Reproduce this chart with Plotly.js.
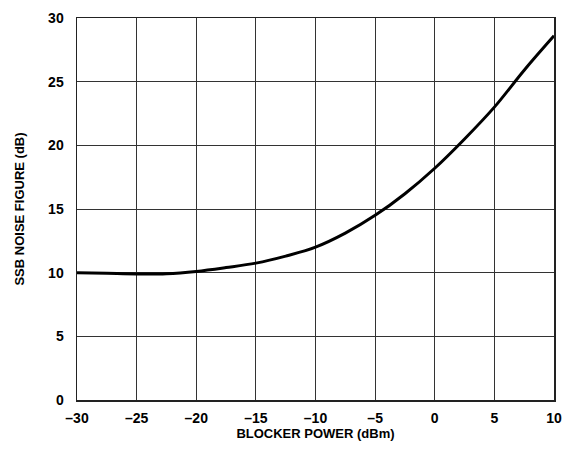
<!DOCTYPE html>
<html><head><meta charset="utf-8">
<script src="https://cdn.plot.ly/plotly-3.0.1.min.js"></script>
<style>body{margin:0;background:#fff}#c{width:569px;height:449px}</style>
</head><body><div id="c"></div>
<script>
const blockerPower = [-30,-27.5,-25,-22.5,-20,-17.5,-15,-12.5,-10,-7.5,-5,-2.5,0,2.5,5,7.5,10];
const noiseFigure = [10.0,9.95,9.9,9.92,10.1,10.4,10.75,11.3,12.0,13.1,14.5,16.2,18.2,20.5,23.0,25.9,28.6];
const xTickVals = [-30,-25,-20,-15,-10,-5,0,5,10];
const xTickText = ['–30','–25','–20','–15','–10','–5','0','5','10'];
const yTickVals = [0,5,10,15,20,25,30];
const yTickText = ['0','5','10','15','20','25','30'];

const font = {family:'Liberation Sans, Arial, sans-serif', size:14, color:'#000', weight:700};
const tfont = {family:'Liberation Sans, Arial, sans-serif', size:13, color:'#000', weight:700};
Plotly.newPlot('c', [{
  x: blockerPower, y: noiseFigure, type:'scatter', mode:'lines',
  line:{color:'#000', width:3, shape:'spline', smoothing:1}
}], {
  width:569, height:449,
  margin:{l:77, r:15, t:18, b:49},
  paper_bgcolor:'#fff', plot_bgcolor:'#fff',
  showlegend:false,
  font: font,
  xaxis:{range:[-30,10], tickvals:xTickVals, ticktext:xTickText, showgrid:true, gridcolor:'#333', gridwidth:1,
    showline:true, linecolor:'#222', linewidth:1.5, mirror:true, zeroline:false, ticks:'outside', ticklen:5, tickcolor:'rgba(0,0,0,0)',
    tickfont:font, title:{text:'BLOCKER POWER (dBm)', font:tfont, standoff:3}},
  yaxis:{range:[0,30], tickvals:yTickVals, ticktext:yTickText, showgrid:true, gridcolor:'#333', gridwidth:1,
    showline:true, linecolor:'#222', linewidth:1.5, mirror:true, zeroline:false, ticks:'outside', ticklen:9, tickcolor:'rgba(0,0,0,0)',
    tickfont:font, title:{text:'SSB NOISE FIGURE (dB)', font:tfont, standoff:20}}
}, {displayModeBar:false, staticPlot:true});
</script></body></html>
